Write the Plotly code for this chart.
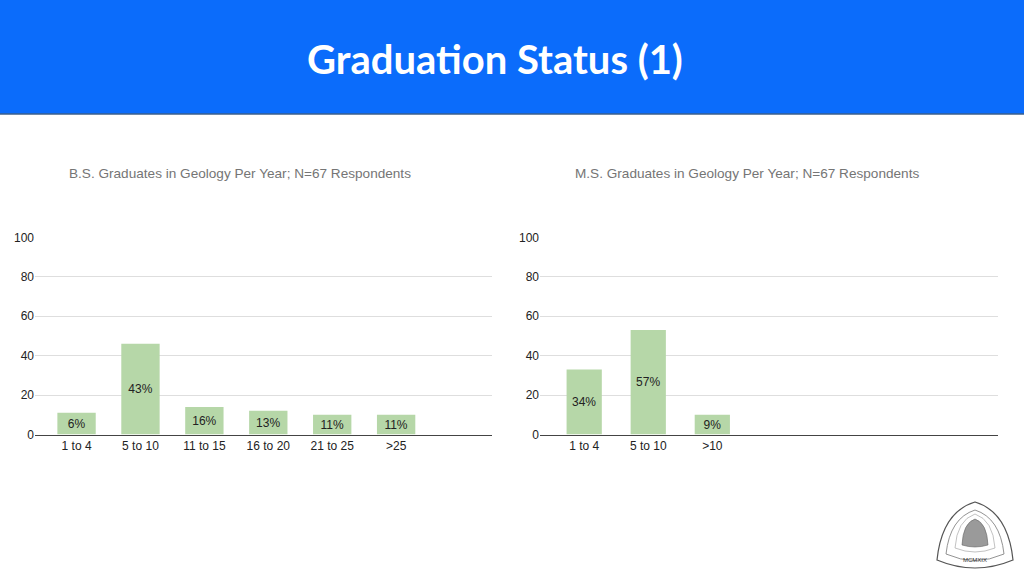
import plotly.graph_objects as go

W, H = 1024, 576

# ---- data ----
bs_categories = ["1 to 4", "5 to 10", "11 to 15", "16 to 20", "21 to 25", ">25"]
bs_values = [11, 46, 14, 12, 10, 10]
bs_labels = ["6%", "43%", "16%", "13%", "11%", "11%"]

ms_categories = ["1 to 4", "5 to 10", ">10"]
ms_values = [33, 53, 10]
ms_labels = ["34%", "57%", "9%"]

y_ticks = [0, 20, 40, 60, 80, 100]

slide_title = "Graduation Status (1)"
bs_title = "B.S. Graduates in Geology Per Year; N=67 Respondents"
ms_title = "M.S. Graduates in Geology Per Year; N=67 Respondents"

BAR = "#b6d7a8"
TXT = "#222222"
FONT = "Liberation Sans, Arial, sans-serif"


def px(x):
    return x / W


def py(y):
    return 1 - y / H


fig = go.Figure()

fig.add_trace(go.Bar(
    x=bs_categories, y=bs_values, text=bs_labels,
    textposition="inside", insidetextanchor="middle", constraintext="none",
    textfont=dict(size=12, color=TXT, family=FONT),
    marker=dict(color=BAR, line=dict(width=0)), width=0.6,
    xaxis="x", yaxis="y", showlegend=False, hoverinfo="skip",
))
fig.add_trace(go.Bar(
    x=ms_categories, y=ms_values, text=ms_labels,
    textposition="inside", insidetextanchor="middle", constraintext="none",
    textfont=dict(size=12, color=TXT, family=FONT),
    marker=dict(color=BAR, line=dict(width=0)), width=0.55,
    xaxis="x2", yaxis="y2", showlegend=False, hoverinfo="skip",
))

ydom = [py(434.5), py(237.3)]
xcommon = dict(showgrid=False, showline=True, linecolor="#444444", linewidth=1.3,
               ticks="", tickfont=dict(size=12, color=TXT, family=FONT),
               fixedrange=True, automargin=False)
ycommon = dict(range=[0, 100], tickvals=y_ticks, showgrid=True, gridcolor="#dedede",
               gridwidth=1, zeroline=False, showline=False, ticks="",
               tickfont=dict(size=12, color=TXT, family=FONT), fixedrange=True,
               automargin=False)

fig.update_layout(
    width=W, height=H,
    margin=dict(l=0, r=0, t=0, b=0, pad=0, autoexpand=False),
    paper_bgcolor="white", plot_bgcolor="white",
    uniformtext=dict(minsize=12, mode="show"),
    bargap=0.4,
    xaxis=dict(domain=[px(35), px(492)], anchor="y", range=[-0.65, 6.5], **xcommon),
    yaxis=dict(domain=ydom, anchor="x", **ycommon),
    xaxis2=dict(domain=[px(540), px(998)], anchor="y2", range=[-0.69, 6.46], **xcommon),
    yaxis2=dict(domain=ydom, anchor="x2", **ycommon),
)

shapes = []
# header band
shapes.append(dict(type="rect", xref="paper", yref="paper", x0=0, x1=1,
                   y0=py(114), y1=1, fillcolor="#0b6cfb", line=dict(width=0), layer="below"))
shapes.append(dict(type="line", xref="paper", yref="paper", x0=0, x1=1,
                   y0=py(114), y1=py(114), line=dict(color="#3b5f8c", width=1.5)))


def pth(pts):
    out = []
    for cmd, coords in pts:
        s = " ".join(f"{px(a):.5f},{py(b):.5f}" for a, b in coords)
        out.append(f"{cmd}{s}")
    return " ".join(out) + " Z"


# logo (approximate)
outer = pth([("M", [(975, 502)]),
             ("Q", [(1008, 512), (1013, 560)]),
             ("Q", [(975, 576), (937, 560)]),
             ("Q", [(942, 512), (975, 502)])])
inner = pth([("M", [(975, 510)]),
             ("Q", [(1000, 518), (1004, 554)]),
             ("Q", [(975, 567), (946, 554)]),
             ("Q", [(950, 518), (975, 510)])])
ring = pth([("M", [(975, 514)]),
            ("Q", [(993, 520), (995, 548)]),
            ("Q", [(975, 556), (955, 548)]),
            ("Q", [(957, 520), (975, 514)])])
dome = pth([("M", [(975, 519)]),
            ("Q", [(987, 523), (988, 545)]),
            ("Q", [(975, 549), (962, 545)]),
            ("Q", [(963, 523), (975, 519)])])
shapes.append(dict(type="path", xref="paper", yref="paper", path=outer,
                   line=dict(color="#555555", width=1.2), fillcolor="white"))
shapes.append(dict(type="path", xref="paper", yref="paper", path=inner,
                   line=dict(color="#777777", width=0.8)))
shapes.append(dict(type="path", xref="paper", yref="paper", path=ring,
                   line=dict(color="#999999", width=0.6)))
shapes.append(dict(type="path", xref="paper", yref="paper", path=dome,
                   line=dict(color="#666666", width=0.6), fillcolor="#9a9a9a"))
fig.update_layout(shapes=shapes)

annotations = [
    dict(text=f"<b>{slide_title}</b>", x=px(495), y=py(59), xref="paper", yref="paper",
         showarrow=False, font=dict(family="Lato, Open Sans, sans-serif", size=40, color="white"),
         xanchor="center", yanchor="middle"),
    dict(text=bs_title, x=px(240), y=py(173), xref="paper", yref="paper",
         showarrow=False, font=dict(family=FONT, size=13.6, color="#757575"),
         xanchor="center", yanchor="middle"),
    dict(text=ms_title, x=px(746.5), y=py(173), xref="paper", yref="paper",
         showarrow=False, font=dict(family=FONT, size=13.6, color="#757575"),
         xanchor="center", yanchor="middle"),
    dict(text="MCMXIX", x=px(975), y=py(560), xref="paper", yref="paper",
         showarrow=False, font=dict(family=FONT, size=6, color="#333333"),
         xanchor="center", yanchor="middle"),
]
fig.update_layout(annotations=annotations)

fig.write_html(
    "out.html",
    config={"displayModeBar": False},
    post_script=(
        "var d=document.getElementById('{plot_id}');"
        "d.style.position='fixed';d.style.top='0px';d.style.left='0px';"
        "document.body.style.margin='0';document.body.style.padding='0';"
        "document.body.style.overflow='hidden';"
        "document.documentElement.style.overflow='hidden';"
    ),
)
